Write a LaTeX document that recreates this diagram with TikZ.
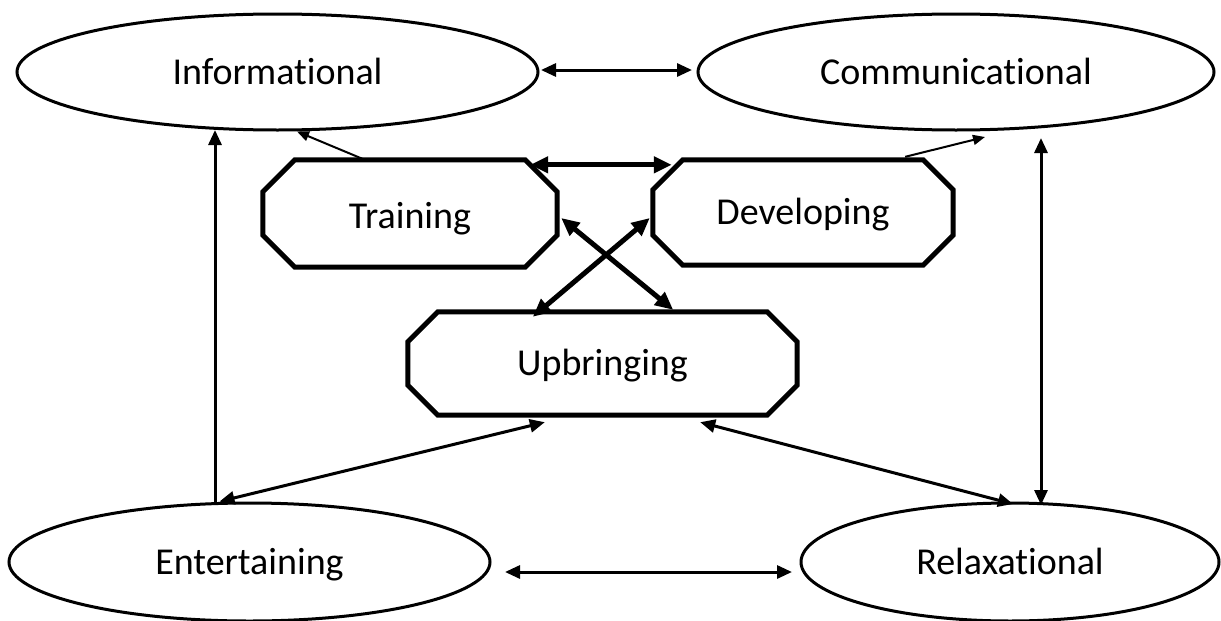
\documentclass[tikz,border=0pt]{standalone}
\usepackage{fontspec}
\setmainfont{Carlito}[Ligatures=NoCommon]
\usetikzlibrary{shapes.geometric,arrows.meta,calc}
\tikzset{
  lbl/.style={font=\fontsize{38}{45}\selectfont, text height=24.5pt, text depth=0pt},
  oval/.style={ellipse, draw, line width=3pt, inner sep=0pt, lbl},
  obox/.style={rectangle, draw=none, inner sep=0pt, lbl},
  octoline/.style={line width=5pt, line join=miter},
  tipA/.tip={Triangle[length=15pt,width=13pt]},
  tipB/.tip={Triangle[length=12pt,width=10pt]},
  tipC/.tip={Triangle[length=18pt,width=16pt]},
  medboth/.style={line width=3pt, tipA-tipA},
  medone/.style={line width=3pt, -tipA},
  thickboth/.style={line width=5pt, tipC-tipC},
  thinone/.style={line width=2pt, -tipB},
}
\newcommand{\drawocto}[2]{%
  \draw[octoline] ([xshift=#2]#1.north west) -- ([xshift=-#2]#1.north east)
    -- ([yshift=-#2]#1.north east) -- ([yshift=#2]#1.south east)
    -- ([xshift=-#2]#1.south east) -- ([xshift=#2]#1.south west)
    -- ([yshift=#2]#1.south west) -- ([yshift=-#2]#1.north west) -- cycle;}
\begin{document}
\begin{tikzpicture}[x=1pt,y=-1pt]
\useasboundingbox[fill=white] (0,0) rectangle (1221,621);
% ellipses
\node[oval, minimum width=521pt, minimum height=116pt] (inf) at (277.5,72) {Informational};
\node[oval, minimum width=516pt, minimum height=116pt] (com) at (956,72) {Communicational};
\node[oval, minimum width=481pt, minimum height=118pt] (ent) at (249.5,562) {Entertaining};
\node[oval, minimum width=418pt, minimum height=118pt] (rel) at (1010,562) {Relaxational};
% octagons
\node[obox, minimum width=294pt, minimum height=107pt] (tr) at (410,213.5) {\raisebox{-2.5pt}{Training}};
\node[obox, minimum width=300pt, minimum height=105pt] (dev) at (803,212.5) {Developing};
\node[obox, minimum width=389pt, minimum height=103pt] (up) at (602.5,363.5) {Upbringing};
\drawocto{tr}{32pt}
\drawocto{dev}{30pt}
\drawocto{up}{30pt}
% connectors
\draw[medboth] ([xshift=1.5pt,yshift=2pt]inf.east) -- ([xshift=-4.5pt,yshift=2pt]com.west);
\draw[medboth] ([xshift=13.5pt,yshift=-10pt]ent.east) -- ([xshift=-7.5pt,yshift=-10pt]rel.west);
\draw[thinone] ([xshift=102pt]tr.north west) -- ([xshift=19.5pt]inf.south);
\draw[thinone] ([xshift=-48pt,yshift=3pt]dev.north east) -- ([xshift=29pt,yshift=-5.5pt]com.south);
\draw[thickboth] ([xshift=-27pt,yshift=-5pt]tr.north east) -- ([xshift=19pt,yshift=-5pt]dev.north west);
\draw[thickboth] ([xshift=125pt,yshift=-5pt]up.north west) -- ([xshift=-3pt,yshift=-5.5pt]dev.west);
\draw[thickboth] ([xshift=-124pt,yshift=2pt]up.north east) -- ([xshift=4pt,yshift=-4.5pt]tr.east);
\draw[medone] ([xshift=-34.5pt]ent.north) -- ([xshift=-62.5pt,yshift=1.5pt]inf.south);
\draw[medboth] ([xshift=137pt,yshift=-7pt]up.south west) -- ([xshift=-30pt]ent.north);
\draw[medboth] ([xshift=-97pt,yshift=-7pt]up.south east) -- ([xshift=3pt,yshift=-2.5pt]rel.north);
\draw[medboth] ([xshift=85pt,yshift=-6.5pt]com.south) -- ([xshift=31pt,yshift=-3.5pt]rel.north);
\end{tikzpicture}
\end{document}
